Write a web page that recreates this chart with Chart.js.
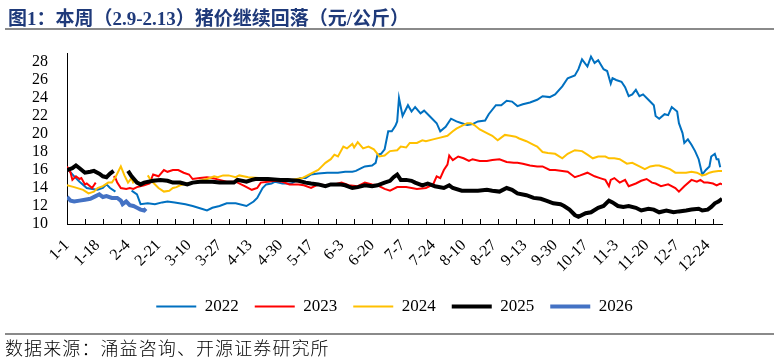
<!DOCTYPE html>
<html>
<head>
<meta charset="utf-8">
<script src="https://cdn.jsdelivr.net/npm/chart.js@4.4.1/dist/chart.umd.min.js"></script>
<style>
  body { margin: 0; background: #fff; }
  #wrap { position: relative; width: 774px; height: 362px; overflow: hidden; }
  #title { position: absolute; left: 8px; top: 3px; font: bold 19px "Liberation Serif", "Noto Sans CJK SC"; color: #1F3A7A; white-space: nowrap; }
  #topline { position: absolute; left: 5px; top: 28px; width: 769px; height: 2px; background: #8a8a8a; }
  #botline { position: absolute; left: 5px; top: 333px; width: 769px; height: 1.5px; background: #8a8a8a; }
  #source { position: absolute; left: 5px; top: 335px; font: 300 18px/24px "Noto Sans CJK SC"; letter-spacing: 1.1px; color: #000; white-space: nowrap; }
  canvas { position: absolute; left: 0; top: 0; }
</style>
</head>
<body>
<div id="wrap">
  <canvas id="chart" width="774" height="362"></canvas>
  <div id="title">图1：本周（2.9-2.13）猪价继续回落（元/公斤）</div>
  <div id="topline"></div>
  <div id="botline"></div>
  <div id="source">数据来源：涌益咨询、开源证券研究所</div>
</div>
<script>
// day of year (0 = 1-1) and labels shown on the x axis
const tickDays = [0, 17, 34, 51, 68, 85, 102, 119, 136, 153, 170, 187, 204, 221, 238, 255, 272, 289, 306, 323, 340, 357];
const tickLabels = ['1-1', '1-18', '2-4', '2-21', '3-10', '3-27', '4-13', '4-30', '5-17', '6-3', '6-20', '7-7', '7-24', '8-10', '8-27', '9-13', '9-30', '10-17', '11-3', '11-20', '12-7', '12-24'];
const yTicks = [10, 12, 14, 16, 18, 20, 22, 24, 26, 28];

// [day, price]; null = no quote (spring festival break)
const s2022 = [[0,16.2],[4,15.3],[7,14.7],[11,14.0],[14,13.9],[17,13.8],[20,14.0],[22,14.4],[24,14.0],[27,13.6],[31,null],[36,13.7],[39,13.3],[41,12.2],[45,12.3],[49,12.2],[53,12.4],[56,12.5],[60,12.4],[66,12.2],[70,12.0],[75,11.7],[78,11.5],[81,11.8],[85,12.0],[89,12.3],[94,12.3],[100,12.0],[104,12.5],[106,12.9],[109,14.0],[111,14.4],[114,14.5],[116,14.7],[120,14.5],[125,14.5],[130,15.1],[133,15.1],[136,15.5],[140,15.6],[145,15.7],[151,15.7],[155,15.8],[159,15.8],[161,15.9],[164,16.2],[166,16.4],[170,16.5],[172,16.8],[173,17.7],[175,17.8],[177,18.3],[179,20.3],[181,20.3],[183,20.9],[184,21.4],[185,24.0],[187,22.0],[190,23.2],[192,22.5],[194,23.0],[197,22.3],[199,22.6],[202,22.0],[206,21.2],[208,20.3],[211,20.8],[214,21.7],[217,21.4],[220,21.2],[223,21.0],[226,21.1],[229,21.4],[233,21.5],[235,22.2],[239,23.2],[242,23.2],[245,23.7],[248,23.6],[251,23.1],[254,23.3],[258,23.5],[262,23.8],[265,24.2],[269,24.1],[272,24.4],[276,25.3],[279,26.2],[283,26.5],[285,27.2],[287,28.3],[290,27.5],[292,28.6],[294,27.9],[296,28.2],[299,27.2],[301,27.0],[303,25.6],[304,26.2],[306,26.0],[309,25.8],[311,25.2],[313,24.2],[315,24.4],[317,24.9],[319,24.2],[321,24.4],[324,23.8],[327,23.2],[328,22.0],[330,21.7],[333,22.2],[335,22.1],[337,23.0],[340,22.5],[341,21.2],[343,20.1],[344,19.0],[346,19.4],[348,18.8],[350,18.1],[352,17.2],[354,15.5],[356,16.0],[358,16.4],[359,17.5],[361,17.8],[362,17.2],[363,17.2],[364,16.3]];
const s2023 = [[0,16.4],[2,15.7],[3,14.9],[5,15.3],[7,15.0],[8,15.1],[10,14.4],[11,14.5],[14,14.0],[15,14.3],[16,14.6],[17,null],[26,15.3],[27,15.1],[28,14.6],[30,14.0],[33,13.9],[35,14.0],[37,13.9],[39,14.1],[43,14.3],[46,14.5],[48,15.5],[51,15.3],[54,16.0],[56,15.8],[59,16.0],[62,16.0],[65,15.7],[68,15.5],[70,15.0],[74,15.1],[78,15.2],[81,15.1],[85,14.9],[89,14.7],[94,14.7],[99,14.2],[103,13.8],[106,14.0],[108,14.6],[112,14.7],[116,14.8],[120,14.7],[124,14.4],[129,14.4],[132,14.3],[136,14.0],[140,14.4],[144,14.3],[149,14.4],[153,14.6],[157,14.3],[162,14.2],[166,14.6],[170,14.4],[173,14.3],[177,13.9],[180,13.7],[184,14.1],[189,14.1],[195,13.9],[200,14.0],[204,14.4],[206,15.3],[208,15.1],[210,16.0],[212,16.6],[213,17.6],[215,17.1],[218,17.5],[221,17.3],[224,17.0],[226,17.2],[230,17.0],[234,17.0],[237,17.1],[241,17.2],[245,16.9],[249,16.8],[251,16.8],[254,16.7],[258,16.5],[262,16.4],[265,16.4],[269,16.0],[272,16.0],[276,15.9],[279,15.8],[283,15.2],[286,15.4],[290,15.7],[294,15.3],[297,15.1],[300,14.9],[302,14.2],[303,14.9],[305,15.1],[308,14.6],[311,14.9],[313,14.2],[317,14.5],[320,14.8],[323,15.0],[326,14.6],[328,14.5],[331,14.2],[335,14.4],[339,14.0],[341,13.6],[344,14.2],[348,14.9],[351,14.7],[353,14.9],[355,14.6],[357,14.6],[360,14.5],[362,14.3],[364,14.5],[365,14.4]];
const s2024 = [[0,14.3],[4,14.1],[9,13.8],[12,13.4],[15,13.6],[17,14.0],[20,14.2],[23,14.6],[25,14.6],[27,15.2],[29,16.0],[30,16.4],[32,15.4],[34,14.6],[36,15.1],[37,14.5],[39,null],[45,15.4],[47,14.8],[51,14.0],[54,13.6],[57,13.7],[59,14.0],[61,14.1],[63,14.3],[67,14.5],[70,14.6],[74,14.8],[78,15.0],[82,15.3],[84,15.2],[87,15.4],[90,15.4],[94,15.2],[96,15.4],[101,15.2],[107,15.1],[112,15.0],[116,15.0],[121,15.0],[125,14.9],[131,15.1],[134,15.4],[137,15.7],[140,16.0],[142,16.4],[144,16.8],[147,17.2],[149,17.7],[151,17.5],[154,18.6],[156,18.4],[159,18.9],[160,18.5],[162,19.1],[165,18.4],[168,18.6],[171,18.3],[173,17.8],[174,17.5],[177,17.6],[180,18.1],[184,18.2],[186,18.6],[189,18.5],[191,19.0],[195,19.0],[198,19.3],[200,19.2],[204,19.4],[208,19.6],[212,19.8],[215,20.3],[217,20.6],[220,20.9],[223,21.2],[225,21.2],[227,21.0],[230,20.5],[234,20.1],[237,19.8],[240,19.3],[244,19.9],[247,19.8],[250,19.7],[252,19.5],[256,19.2],[260,18.8],[262,18.6],[265,18.0],[268,17.9],[272,17.8],[276,17.3],[279,17.8],[283,18.2],[287,18.1],[290,17.7],[293,17.3],[296,17.5],[300,17.5],[302,17.3],[305,17.3],[308,17.2],[312,16.7],[315,16.8],[319,16.4],[322,16.1],[325,16.4],[328,16.5],[330,16.5],[333,16.3],[336,16.1],[339,15.7],[342,15.7],[345,15.7],[348,15.8],[351,15.7],[354,15.4],[356,15.5],[358,15.7],[360,15.8],[363,15.9],[365,15.9]];
const s2025 = [[0,16.0],[3,16.2],[5,16.5],[7,16.2],[10,15.7],[13,15.8],[15,15.9],[18,15.6],[20,15.3],[22,15.2],[24,15.6],[26,15.9],[28,null],[34,15.9],[36,15.3],[39,14.6],[41,14.4],[43,14.6],[48,14.8],[52,14.9],[56,14.8],[59,14.6],[63,14.6],[67,14.4],[70,14.6],[74,14.7],[78,14.7],[81,14.7],[85,14.6],[89,14.6],[93,14.6],[95,14.9],[100,14.7],[103,14.9],[105,15.0],[108,15.0],[112,15.0],[119,14.9],[123,14.9],[129,14.8],[133,14.6],[136,14.5],[140,14.4],[144,14.2],[147,14.4],[152,14.4],[155,14.3],[159,14.0],[162,14.1],[166,14.3],[170,14.2],[173,14.3],[177,14.6],[180,14.8],[182,15.2],[184,15.5],[186,14.9],[189,14.9],[192,14.8],[194,14.6],[198,14.3],[201,14.5],[205,14.2],[210,14.0],[213,14.3],[215,14.0],[220,13.7],[225,13.7],[229,13.7],[234,13.8],[237,13.7],[241,13.6],[245,14.0],[248,13.8],[251,13.4],[256,13.2],[260,12.9],[264,12.8],[267,12.6],[271,12.3],[275,12.2],[277,12.0],[280,11.6],[283,11.0],[285,10.8],[289,11.2],[292,11.3],[296,11.8],[299,12.0],[302,12.6],[304,12.4],[307,12.0],[310,11.9],[313,12.0],[317,11.8],[320,11.5],[324,11.7],[327,11.6],[330,11.3],[334,11.5],[338,11.3],[341,11.4],[345,11.5],[348,11.6],[352,11.7],[354,11.5],[357,11.6],[359,11.9],[361,12.3],[363,12.5],[365,12.8]];
const s2026 = [[0,13.0],[2,12.6],[4,12.5],[7,12.6],[10,12.7],[13,12.8],[16,13.1],[18,13.3],[20,13.0],[22,13.1],[25,12.9],[28,12.9],[30,12.6],[31,12.2],[33,12.5],[35,12.1],[37,12.0],[39,11.8],[41,11.6],[43,11.5],[44,11.7]];

const serif = 'Liberation Serif';

function line(label, pts, color, width, order) {
    return {
        label: label,
        data: pts.map(p => ({x: p[0], y: p[1]})),
        borderColor: color,
        backgroundColor: color,
        borderWidth: width,
        pointRadius: 0,
        tension: 0,
        spanGaps: false,
        order: order
    };
}

const tickMarks = {
    id: 'tickMarks',
    afterLayout(chart) {
        // centre the legend under the plot area instead of the whole canvas
        const ca = chart.chartArea;
        const lg = chart.legend;
        const shift = (ca.left + ca.right) / 2 - (lg.left + lg.right) / 2;
        lg.left += shift;
        lg.right += shift;
    },
    // small inward tick marks every 10 days, like the original axis
    afterDraw(chart) {
        const xs = chart.scales.x;
        const c = chart.ctx;
        const bottom = chart.chartArea.bottom;
        c.save();
        c.strokeStyle = '#000';
        c.lineWidth = 1;
        c.beginPath();
        for (let d = 0; d <= 365; d += 10) {
            const px = Math.round(xs.getPixelForValue(d)) + 0.5;
            c.moveTo(px, bottom);
            c.lineTo(px, bottom - 5);
        }
        c.stroke();
        c.restore();
    }
};

new Chart(document.getElementById('chart'), {
    type: 'line',
    data: {
        datasets: [
            line('2022', s2022, '#0070C0', 2, 4),
            line('2023', s2023, '#FF0000', 2, 3),
            line('2024', s2024, '#FFC000', 2, 2),
            line('2025', s2025, '#000000', 4, 1),
            line('2026', s2026, '#4472C4', 4, 0)
        ]
    },
    options: {
        responsive: false,
        animation: false,
        layout: { padding: { top: 53, right: 52, bottom: 37, left: 0 } },
        scales: {
            x: {
                type: 'linear',
                min: 0,
                max: 365,
                afterBuildTicks: s => { s.ticks = tickDays.map(v => ({value: v})); },
                afterFit: s => { s.height = 58; },
                ticks: {
                    autoSkip: false,
                    maxRotation: 45,
                    minRotation: 45,
                    padding: 12,
                    color: '#000',
                    font: { family: serif, size: 16 },
                    callback: (v, i) => tickLabels[i]
                },
                grid: { display: false, drawTicks: false },
                border: { display: true, color: '#000', width: 1 }
            },
            y: {
                min: 10,
                max: 29,
                afterBuildTicks: s => { s.ticks = yTicks.map(v => ({value: v})); },
                afterFit: s => { s.width = 67; },
                ticks: {
                    autoSkip: false,
                    padding: 19,
                    color: '#000',
                    font: { family: serif, size: 16 }
                },
                grid: { display: false, drawTicks: false },
                border: { display: true, color: '#000', width: 1 }
            }
        },
        plugins: {
            legend: {
                position: 'bottom',
                labels: {
                    usePointStyle: true,
                    pointStyle: 'line',
                    pointStyleWidth: 40,
                    padding: 16,
                    color: '#000',
                    font: { family: serif, size: 17 },
                    sort: (a, b) => a.datasetIndex - b.datasetIndex
                }
            },
            tooltip: { enabled: false }
        }
    },
    plugins: [tickMarks]
});
</script>
</body>
</html>
